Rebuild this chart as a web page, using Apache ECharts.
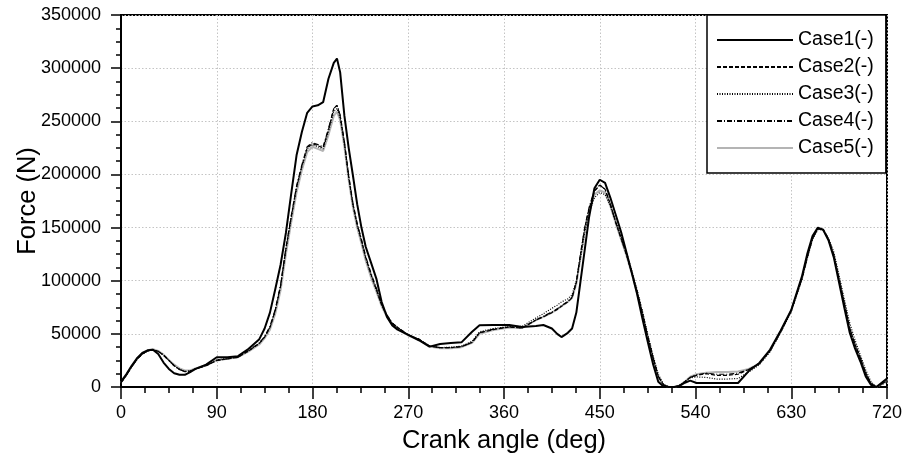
<!DOCTYPE html>
<html>
<head>
<meta charset="utf-8">
<script src="https://cdn.jsdelivr.net/npm/echarts@6/dist/echarts.min.js"></script>
<style>html,body{margin:0;padding:0;background:#fff;}#c{width:904px;height:458px;}</style>
</head>
<body>
<div id="c"></div>
<script>
const seriesNames = ['Case1(-)','Case2(-)','Case3(-)','Case4(-)','Case5(-)'];
const xTicks = [0,90,180,270,360,450,540,630,720];
const yTicks = [0,50000,100000,150000,200000,250000,300000,350000];

const angles = [0,5,10,15,20,25,30,35,40,45,50,55,60,65,70,80,90,100,110,120,130,135,140,145,150,155,160,165,170,175,180,185,190,195,200,203,206,210,214,218,222,226,230,235,240,245,250,255,260,270,280,290,300,310,320,330,337,350,365,377,390,397,405,410,414,420,424,428,432,436,440,445,450,455,460,465,470,475,480,485,490,495,500,505,510,515,520,525,530,535,541,550,560,570,580,590,600,610,620,630,640,645,650,655,660,665,670,675,680,685,690,695,700,705,710,715,720];

const case1 = [5000,12000,20000,27000,32000,34500,35000,31000,23000,17000,13000,11500,11500,14000,17000,21000,28000,28000,29000,36000,45000,55000,70000,92000,115000,145000,182000,218000,240000,258000,264000,265000,268000,290000,305000,309000,296000,255000,225000,199000,172000,150000,132000,117000,102000,80000,66000,58000,54000,49000,44000,38000,40500,41500,42000,52000,58000,58300,58300,56500,57500,58300,55000,50000,47000,51000,55000,70000,100000,130000,160000,187000,195000,192000,178000,162000,146000,127000,108000,88000,65000,43000,22000,5000,500,0,0,1000,4000,6000,3800,3800,3800,3800,3800,15000,22600,35000,53000,72500,103800,125000,142000,150000,148000,138000,122000,98000,74000,51000,36000,24000,10000,2000,0,4000,8000];

const case2 = [4000,11000,19000,26000,31000,34000,35000,33500,30000,25000,20000,16500,14500,15000,17000,20000,25000,26500,28000,34000,41000,47000,56000,72000,95000,130000,160000,188000,208000,225000,229000,227000,225000,242000,262000,265000,255000,230000,198000,172000,153000,138000,122000,106000,92000,77000,67000,60000,56000,49000,45000,38500,37000,37000,38000,42000,51000,54000,56500,55500,63000,66000,70000,73000,76000,80000,84000,98000,125000,150000,168000,184000,190000,186000,172000,155000,140000,125000,108000,90000,70000,48000,28000,10000,2000,0,0,1500,5000,9000,11000,12500,11000,11000,12000,16500,22000,34000,52000,72000,102000,122000,140000,149000,148000,139000,124000,101000,78000,55000,40000,27000,13000,3000,0,3000,6000];

const case3 = [4000,11000,19000,26000,31000,34000,35000,33500,30000,25000,20000,16500,14500,15000,17000,20500,25500,27000,28500,34000,41000,47000,56000,72000,95000,129000,159000,187000,207000,224000,228000,226000,224000,240000,259000,262000,253000,228000,197000,171000,152000,137000,121000,105000,91000,77000,67000,60000,56000,49000,45000,38500,37000,37500,38500,43000,52000,55000,57000,57000,65000,69000,74000,77000,80000,83000,87000,100000,122000,146000,164000,178000,183000,181000,170000,156000,142000,127000,110000,92000,72000,50000,30000,12000,2500,0,0,1500,5000,8500,9500,9000,7500,7500,8000,14000,21000,33000,51000,71000,101000,121000,139000,148000,148000,140000,127000,105000,82000,60000,44000,30000,16000,5000,0,2000,5000];

const case4 = [4000,11000,19000,26000,31000,34000,35000,33500,30000,25000,20000,16500,14500,15000,17000,20000,25000,26500,28000,34500,41500,47500,57000,73000,96000,131000,161000,189000,209000,226000,230000,228000,226000,243000,262000,265000,256000,231000,199000,173000,154000,139000,123000,107000,93000,78000,68000,60000,56000,49000,45000,38500,37000,37000,38000,42000,51000,54500,56500,55500,63000,66500,70500,73500,76500,80500,84500,99000,126000,151000,169000,185000,190000,186000,172000,155000,140000,125000,108000,90000,70000,48000,28000,10000,2000,0,0,1500,5000,9000,11500,13000,12000,12000,13000,16500,22000,34000,52000,72000,102000,122000,140000,149000,148000,139000,124000,101000,78000,55000,40000,27000,13000,3000,0,3000,6000];

const case5 = [4000,11500,19500,26500,31500,34500,35500,34000,30500,25500,21000,17500,15500,15500,17500,20500,25000,26500,28000,33500,40000,46000,54000,69000,91000,125000,155000,183000,204000,221000,226000,224000,222000,237000,255000,259000,251000,226000,195000,169000,150000,135000,119000,103000,90000,76000,66000,59000,55000,48500,44500,38000,36500,36500,37500,41500,50000,53500,56000,55500,63000,66000,70000,73000,76000,80000,84000,97000,122000,147000,165000,181000,185000,183000,170000,154000,139000,124000,107000,89000,69000,47000,27000,9000,1500,0,0,1500,5000,9700,12000,13500,14000,14000,14500,17000,22000,34000,52000,72000,102000,122000,140000,149000,148000,139000,124000,101000,78000,55000,40000,27000,13000,3000,0,3000,6000];

const caseData = [case1, case2, case3, case4, case5];
const styles = [
  {color:'#000', width:2, type:'solid'},
  {color:'#000', width:1.2, type:[4,2]},
  {color:'#000', width:1.2, type:[1,1.5]},
  {color:'#000', width:1.2, type:[5,2,1,2]},
  {color:'#b4b4b4', width:2, type:'solid'}
];

const FONT = 'Liberation Sans, Arial, sans-serif';
const chart = echarts.init(document.getElementById('c'), null, {renderer:'canvas'});
chart.setOption({
  animation: false,
  backgroundColor: '#fff',
  grid: {left:121, right:17, top:15, bottom:71, containLabel:false, outerBoundsMode:'none',
         show:true, borderColor:'#000', borderWidth:2, backgroundColor:'transparent'},
  legend: {
    data: seriesNames.map(n => ({name: n, itemStyle: {opacity: 0}})),
    orient: 'vertical',
    left: 707, top: 15,
    padding: [15, 12, 15, 9],
    itemGap: 7,
    itemWidth: 76, itemHeight: 14,
    borderColor: '#000', borderWidth: 1.5,
    backgroundColor: '#fff',
    textStyle: {fontFamily: FONT, fontSize: 19.5, color:'#000'}
  },
  xAxis: {
    type:'value', min: xTicks[0], max: xTicks[xTicks.length-1], interval: 90,
    name: 'Crank angle (deg)', nameLocation:'middle', nameGap: 41, nameMoveOverlap: false,
    nameTextStyle: {fontFamily: FONT, fontSize: 25.5, color:'#000'},
    axisLine: {show:true, lineStyle:{color:'#000', width:2}},
    axisTick: {show:true, length:12, lineStyle:{color:'#000', width:1.5}},
    minorTick: {show:true, splitNumber:4, length:6, lineStyle:{color:'#000', width:1.5}},
    axisLabel: {fontFamily: FONT, fontSize: 18, color:'#000', margin: 17, formatter: v => String(v)},
    splitLine: {show:true, lineStyle:{color:'#c4c4c4', type:[1.5,2], width:1}}
  },
  yAxis: {
    type:'value', min: yTicks[0], max: yTicks[yTicks.length-1], interval: 50000,
    name: 'Force (N)', nameLocation:'middle', nameGap: 80, nameRotate: 90, nameMoveOverlap: false,
    nameTextStyle: {fontFamily: FONT, fontSize: 25.5, color:'#000'},
    axisLine: {show:true, lineStyle:{color:'#000', width:2}},
    axisTick: {show:true, length:10, lineStyle:{color:'#000', width:1.5}},
    minorTick: {show:true, splitNumber:4, length:5, lineStyle:{color:'#000', width:1.5}},
    axisLabel: {fontFamily: FONT, fontSize: 18, color:'#000', margin: 20, formatter: v => String(v)},
    splitLine: {show:true, lineStyle:{color:'#c4c4c4', type:[1.5,2], width:1}}
  },
  series: seriesNames.map((n, i) => ({
    name: n, type:'line', showSymbol:false, symbol:'none', smooth:false,
    data: angles.map((a, k) => [a, caseData[i][k]]),
    lineStyle: styles[i], itemStyle:{color: styles[i].color},
    z: 10 - i
  }))
});
</script>
</body>
</html>
